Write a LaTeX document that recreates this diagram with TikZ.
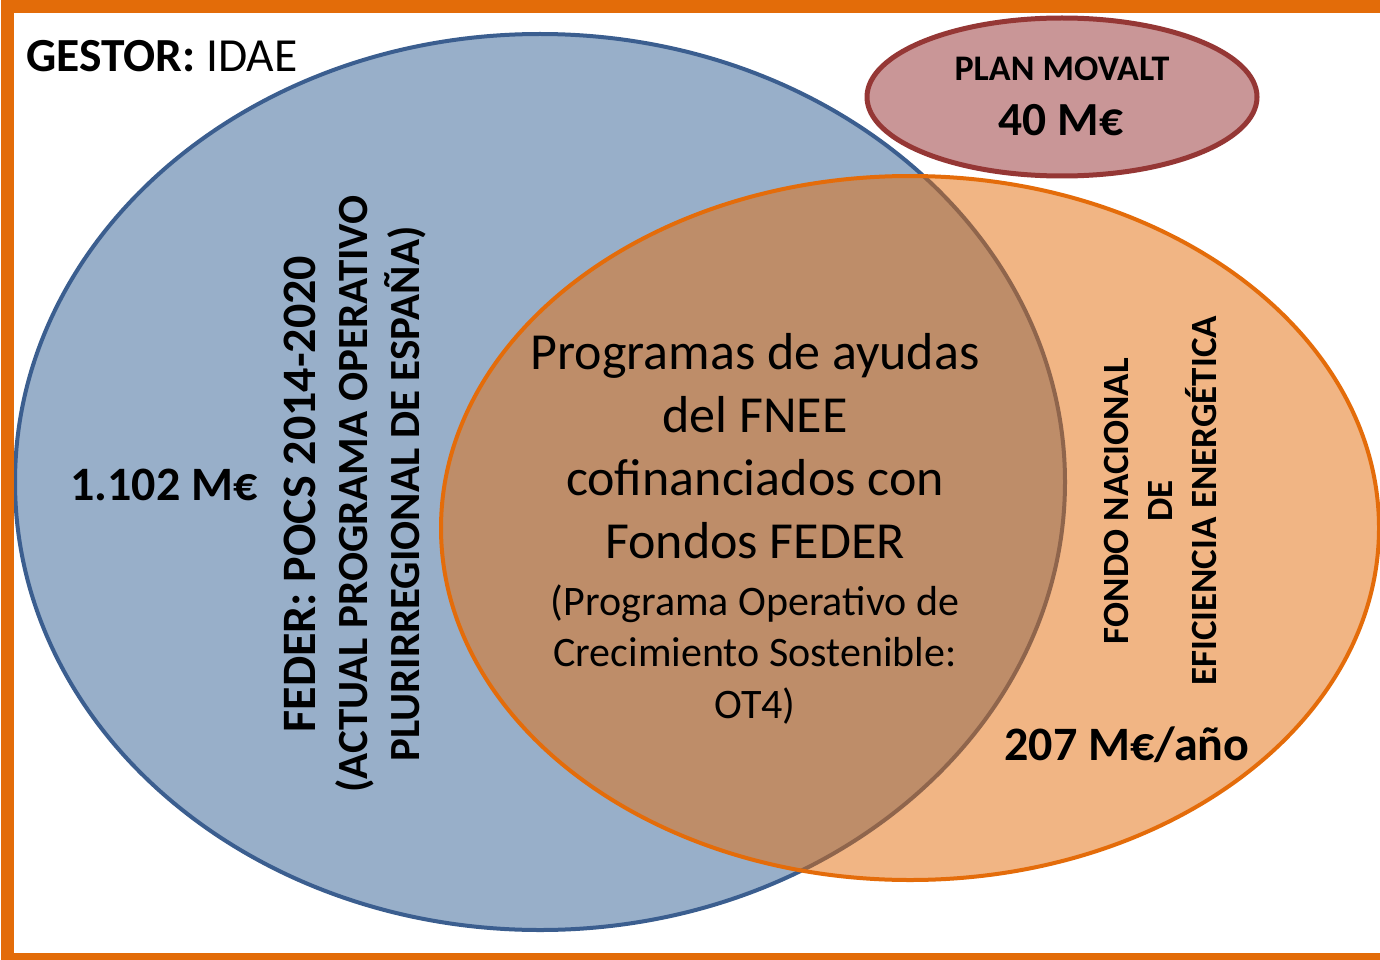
\documentclass[tikz,border=0pt]{standalone}
\usepackage{fontspec}
\setmainfont{Carlito}
\definecolor{marco}{HTML}{E36C09}
\definecolor{azulborde}{HTML}{3B5E8F}
\definecolor{azulfondo}{HTML}{98AFC9}
\definecolor{naranja}{HTML}{E46C0A}
\definecolor{rojoborde}{HTML}{953735}
\definecolor{rojofondo}{HTML}{C99697}

\begin{document}
\begin{tikzpicture}[x=1pt, y=-1pt,
cifra/.style={font=\fontsize{48}{58}\selectfont\bfseries, inner sep=0pt, anchor=base},
vertical/.style={rotate=90, align=center, inner sep=0pt},
conjunto/.style={line width=4}]
\tikzstyle{rotulo}=[font=\fontsize{36}{43}\selectfont\bfseries, inner sep=0pt, anchor=base]
 \def\ancho{1380}
 \def\alto{960}
\clip (0,0) rectangle (\ancho,\alto);
\fill[white] (0,0) rectangle (\ancho,\alto);
%FEDER
\draw[conjunto, draw=azulborde, fill=azulfondo] (540,482) ellipse [x radius=525, y radius=448];
%FNEE
\fill[naranja, fill opacity=0.5] (910,528) ellipse [x radius=469, y radius=352];
\draw[conjunto, draw=naranja] (910,528) ellipse [x radius=469, y radius=352];
%MOVALT
\draw[line width=5, draw=rojoborde, fill=rojofondo] (1062,97) ellipse [x radius=195, y radius=79];
%marco
\draw[line width=13, marco] (7.5,6.5) rectangle (1400,959.5);

\node[rotulo, anchor=base west, font=\fontsize{47.5}{57}\selectfont] (gestor) at (26,72) {\textbf{GESTOR:} IDAE};
\node[rotulo] (movalt) at (1062,81) {PLAN MOVALT};
\node[cifra, font=\fontsize{47.5}{57}\selectfont\bfseries] (movaltcifra) at (1061,136) {40 M€};
\node[cifra] (federcifra) at (164,500) {1.102 M€};
\node[cifra] (fneecifra) at (1127,760) {207 M€/año};
\node[vertical, font=\fontsize{43}{52}\selectfont\bfseries] (feder) at (355,494)
  {{\fontsize{48}{52}\selectfont FEDER: POCS 2014-2020}\\(ACTUAL PROGRAMA OPERATIVO\\PLURIRREGIONAL DE ESPAÑA)};
\node[vertical, font=\fontsize{37}{44}\selectfont\bfseries] (fnee) at (1160,501)
  {FONDO NACIONAL\\DE\\EFICIENCIA ENERGÉTICA};
\node[text width=500, align=flush center, inner sep=0pt, font=\fontsize{52}{63}\selectfont] (ayudas) at (755,529)
  {Programas de ayudas\\del FNEE\\cofinanciados con\\Fondos FEDER\par\vspace{5pt}
   {\fontsize{42}{51.5}\selectfont (Programa Operativo de\\Crecimiento Sostenible:\\OT4)\par}};
\end{tikzpicture}
\end{document}
